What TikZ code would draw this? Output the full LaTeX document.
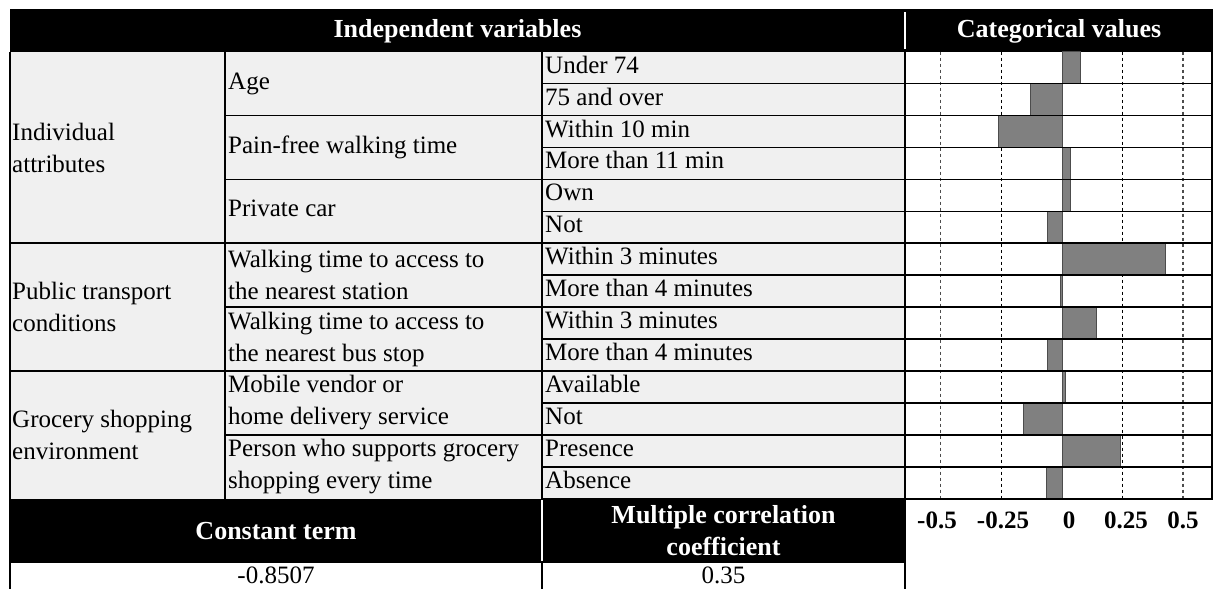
\documentclass[tikz,border=0pt]{standalone}
\usepackage{fontspec}
\setmainfont{Liberation Serif}
\usetikzlibrary{positioning}

\definecolor{cellgray}{HTML}{F0F0F0}
\definecolor{bargray}{HTML}{808080}

\begin{document}
\begin{tikzpicture}[x=1pt,y=-1pt]
\tikzstyle{every node}+=[inner sep=0pt, font=\fontsize{25}{32}\selectfont]
\tikzstyle{cell}=[anchor=west, text height=17pt, text depth=6pt]
\tikzstyle{group}=[anchor=west, align=left]
\tikzstyle{head}=[text=white, font=\fontsize{26}{32}\selectfont\bfseries]
\tikzstyle{tick}=[font=\fontsize{25}{32}\selectfont\bfseries]
\tikzstyle{rule}=[black, line width=1.6pt]
\tikzstyle{bar}=[fill=bargray, draw=black!70, line width=1pt]
\tikzstyle{major}=[black!70, line width=1.5pt, dash pattern=on 3pt off 3pt]
\tikzstyle{minor}=[black, line width=0.9pt, dash pattern=on 3pt off 3pt]
\useasboundingbox (0,0) rectangle (1213,589);

% header band
\fill [black] (10,9) rectangle (1213,51.7);
\draw [white, line width=2pt] (905,12) -- (905,49);
\node [head] (indep) at (457.5,31) {Independent variables};
\node [head] (catval) at (1059,31) {Categorical values};

% cell backgrounds
\fill [cellgray] (10,51.7) rectangle (905,498.7);
\fill [white] (905,51.7) rectangle (1213,498.7);

% grid of the bar chart
\foreach \gx in {940.7,1183}
  \draw [major] (\gx,51.7) -- (\gx,498.7);
\foreach \gx in {1001.7,1122.7}
  \draw [minor] (\gx,51.7) -- (\gx,498.7);
\draw [major] (1062.3,51.7) -- (1062.3,498.7);

% bars (0.25 = 60.6pt)
\foreach \i/\v in {0/0.076,1/-0.133,2/-0.262,3/0.032,4/0.032,5/-0.06,6/0.424,
                   7/-0.008,8/0.14,9/-0.063,10/0.014,11/-0.16,12/0.238,13/-0.067}{
  \pgfmathsetmacro{\ytop}{51.7+31.93*\i}
  \pgfmathsetmacro{\ybot}{51.7+31.93*(\i+1)}
  \pgfmathsetmacro{\xend}{1062.3+242.4*\v}
  \draw [bar] (1062.3,\ytop) rectangle (\xend,\ybot);
}

% row rules
\foreach \i in {1,...,13}{
  \pgfmathsetmacro{\yr}{51.7+31.93*\i}
  \draw [rule] (542,\yr) -- (1213,\yr);
}
\foreach \i in {2,4,8,12}{
  \pgfmathsetmacro{\yr}{51.7+31.93*\i}
  \draw [rule] (225,\yr) -- (542,\yr);
}
\draw [rule] (10,243.28) -- (542,243.28);
\draw [rule] (10,371) -- (542,371);
\draw [rule] (542,498.7) -- (1213,498.7);

% column rules
\draw [rule] (10,51.7) -- (10,589);
\draw [rule] (225,51.7) -- (225,498.7);
\draw [rule] (542,51.7) -- (542,498.7);
\draw [rule] (542,562.7) -- (542,589);
\draw [rule] (905,51.7) -- (905,589);
\draw [rule] (1212,51.7) -- (1212,498.7);

% group labels
\node [group] (indiv) at (12,147.5) {Individual\\attributes};
\node [group] (public) at (12,307.1) {Public transport\\conditions};
\node [group] (grocery) at (12,434.9) {Grocery shopping\\environment};

% variable labels
\node [cell] (age) at (228,83.6) {Age};
\node [cell] (pain) at (228,147.5) {Pain-free walking time};
\node [cell] (car) at (228,211.4) {Private car};
\node [group] (station) at (228,275.2) {Walking time to access to\\the nearest station};
\node [group] (busstop) at (228,339.1) {Walking time to access to\\the nearest bus stop};
\node [group] (vendor) at (228,402.9) {Mobile vendor or\\home delivery service};
\node [group] (support) at (228,466.8) {Person who supports grocery\\shopping every time};

% category labels
\foreach \i/\txt in {0/Under 74,1/75 and over,2/Within 10 min,3/More than 11 min,
                     4/Own,5/Not,6/Within 3 minutes,7/More than 4 minutes,
                     8/Within 3 minutes,9/More than 4 minutes,10/Available,
                     11/Not,12/Presence,13/Absence}{
  \pgfmathsetmacro{\yc}{51.7+31.93*(\i+0.5)}
  \node [cell] (cat\i) at (545,\yc) {\txt};
}

% bottom band
\fill [black] (10,498.7) rectangle (905,562.7);
\draw [white, line width=2pt] (542,500) -- (542,561);
\node [head] (const) at (276,530.7) {Constant term};
\node [head, align=center] (multi) at (723.5,530.7) {Multiple correlation\\coefficient};
\node (constval) at (276,575.5) {-0.8507};
\node (multival) at (723.5,575.5) {0.35};

% axis labels
\foreach \tx/\tl in {937/-0.5,1003/-0.25,1069/0,1126/0.25,1183/0.5}
  \node [tick] (tick\tl) at (\tx,520) {\tl};
\end{tikzpicture}
\end{document}
